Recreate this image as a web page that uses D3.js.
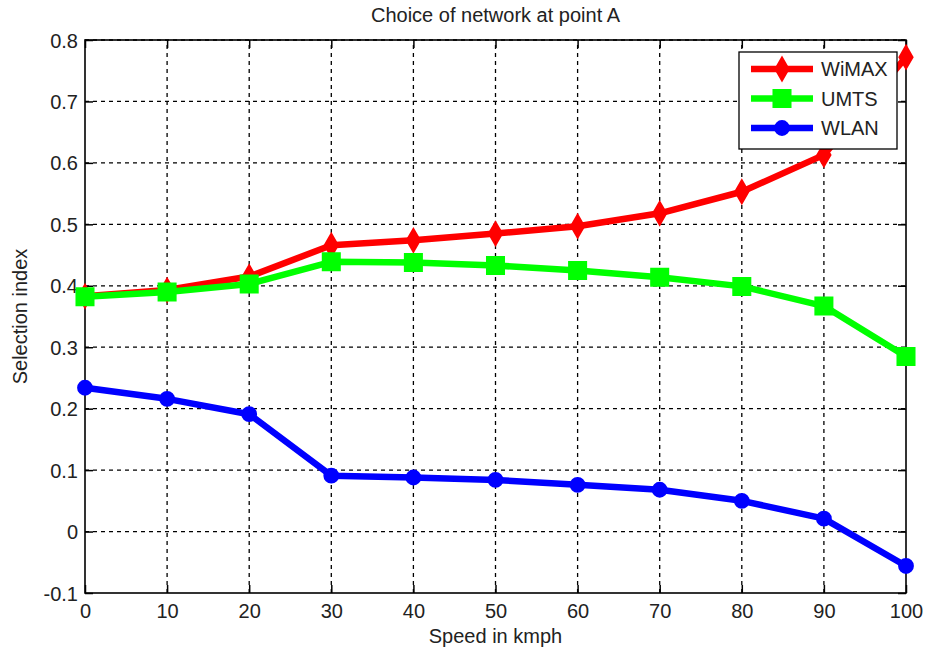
<!DOCTYPE html>
<html>
<head>
<meta charset="utf-8">
<script src="https://cdn.jsdelivr.net/npm/d3@7"></script>
<style>
  body { margin: 0; background: #fff; }
  svg text { font-family: "Liberation Sans", Arial, sans-serif; fill: #222; }
</style>
</head>
<body>
<svg id="chart" width="926" height="654"></svg>
<script>
// data
const speeds = [0, 10, 20, 30, 40, 50, 60, 70, 80, 90, 100];
const wimax = [0.383, 0.393, 0.415, 0.466, 0.474, 0.485, 0.497, 0.518, 0.553, 0.613, 0.772];
const umts  = [0.382, 0.390, 0.403, 0.439, 0.438, 0.433, 0.425, 0.414, 0.399, 0.367, 0.285];
const wlan  = [0.234, 0.216, 0.191, 0.091, 0.088, 0.084, 0.076, 0.068, 0.050, 0.021, -0.056];
const xTicks = [0, 10, 20, 30, 40, 50, 60, 70, 80, 90, 100];
const yTicks = [-0.1, 0, 0.1, 0.2, 0.3, 0.4, 0.5, 0.6, 0.7, 0.8];

const series = [
  { name: "WiMAX", values: wimax, color: "#ff0000", symbol: d3.symbolDiamond, size: 150 },
  { name: "UMTS",  values: umts,  color: "#00ff00", symbol: d3.symbolSquare,  size: 290 },
  { name: "WLAN",  values: wlan,  color: "#0000ff", symbol: d3.symbolCircle,  size: 150 }
];

const margin = { left: 85, right: 20, top: 40, bottom: 61 };
const width = 926, height = 654;
const fontSize = 20;
const svg = d3.select("#chart");

const x = d3.scaleLinear().domain([0, 100]).range([margin.left, width - margin.right]);
const y = d3.scaleLinear().domain([-0.1, 0.8]).range([height - margin.bottom, margin.top]);

const x0 = x.range()[0], x1 = x.range()[1];
const y0 = y.range()[0], y1 = y.range()[1];

// grid
const grid = svg.append("g")
  .attr("stroke", "#000")
  .attr("stroke-width", 1.3)
  .attr("stroke-dasharray", "4,4");
grid.selectAll("line.v")
  .data(xTicks.slice(1, -1))
  .join("line")
  .attr("x1", d => x(d)).attr("x2", d => x(d))
  .attr("y1", y0).attr("y2", y1);
grid.selectAll("line.h")
  .data(yTicks.slice(1))
  .join("line")
  .attr("class", "h")
  .attr("x1", x0).attr("x2", x1)
  .attr("y1", d => y(d)).attr("y2", d => y(d));

// axes (bottom/left with labels, top/right inner ticks only)
const fmt = d => String(Math.round(d * 10) / 10);
const axisStyle = g => {
  g.select(".domain").remove();
  g.selectAll(".tick line").attr("stroke", "#000").attr("stroke-width", 1.5);
  g.selectAll(".tick text").attr("font-size", fontSize).attr("fill", "#222")
    .attr("font-family", "Liberation Sans, Arial, sans-serif");
};
svg.append("g")
  .attr("transform", `translate(0,${y0})`)
  .call(d3.axisBottom(x).tickValues(xTicks).tickSizeInner(-8).tickSizeOuter(0).tickPadding(11))
  .call(axisStyle);
svg.append("g")
  .attr("transform", `translate(${x0},0)`)
  .call(d3.axisLeft(y).tickValues(yTicks).tickFormat(fmt).tickSizeInner(-8).tickSizeOuter(0).tickPadding(7))
  .call(axisStyle)
  .call(g => g.selectAll(".tick text").attr("dy", "0.35em"));
svg.append("g")
  .attr("transform", `translate(0,${y1})`)
  .call(d3.axisTop(x).tickValues(xTicks).tickSizeInner(-8).tickSizeOuter(0).tickFormat(""))
  .call(axisStyle);
svg.append("g")
  .attr("transform", `translate(${x1},0)`)
  .call(d3.axisRight(y).tickValues(yTicks).tickSizeInner(-8).tickSizeOuter(0).tickFormat(""))
  .call(axisStyle);

// box
svg.append("rect")
  .attr("x", x0).attr("y", y1)
  .attr("width", x1 - x0).attr("height", y0 - y1)
  .attr("fill", "none").attr("stroke", "#000").attr("stroke-width", 1.6);

// lines and markers
const line = d3.line().x((d, i) => x(speeds[i])).y(d => y(d));
series.forEach(s => {
  const g = svg.append("g");
  g.append("path")
    .datum(s.values)
    .attr("d", line)
    .attr("fill", "none")
    .attr("stroke", s.color)
    .attr("stroke-width", 6.5)
    .attr("stroke-linejoin", "round");
  g.selectAll("path.m")
    .data(s.values)
    .join("path")
    .attr("class", "m")
    .attr("transform", (d, i) => `translate(${x(speeds[i])},${y(d)})`)
    .attr("d", d3.symbol().type(s.symbol).size(s.size))
    .attr("fill", s.color)
    .attr("stroke", s.color)
    .attr("stroke-width", 2);
});

// legend
const lg = svg.append("g").attr("transform", "translate(739,52)");
lg.append("rect")
  .attr("width", 158).attr("height", 97)
  .attr("fill", "#fff").attr("stroke", "#000").attr("stroke-width", 1.3);
series.forEach((s, i) => {
  const yy = 17 + i * 29.5;
  lg.append("line")
    .attr("x1", 12).attr("x2", 74).attr("y1", yy).attr("y2", yy)
    .attr("stroke", s.color).attr("stroke-width", 6.5);
  lg.append("path")
    .attr("transform", `translate(43,${yy})`)
    .attr("d", d3.symbol().type(s.symbol).size(s.size))
    .attr("fill", s.color).attr("stroke", s.color).attr("stroke-width", 2);
  lg.append("text")
    .attr("x", 82).attr("y", yy).attr("dy", "0.36em")
    .attr("font-size", fontSize)
    .text(s.name);
});

// titles
svg.append("text")
  .attr("x", (x0 + x1) / 2).attr("y", 22)
  .attr("text-anchor", "middle").attr("font-size", fontSize)
  .text("Choice of network at point A");
svg.append("text")
  .attr("x", (x0 + x1) / 2).attr("y", 643)
  .attr("text-anchor", "middle").attr("font-size", fontSize)
  .text("Speed in kmph");
svg.append("text")
  .attr("transform", `translate(27,${(y0 + y1) / 2}) rotate(-90)`)
  .attr("text-anchor", "middle").attr("font-size", fontSize)
  .text("Selection index");
</script>
</body>
</html>
